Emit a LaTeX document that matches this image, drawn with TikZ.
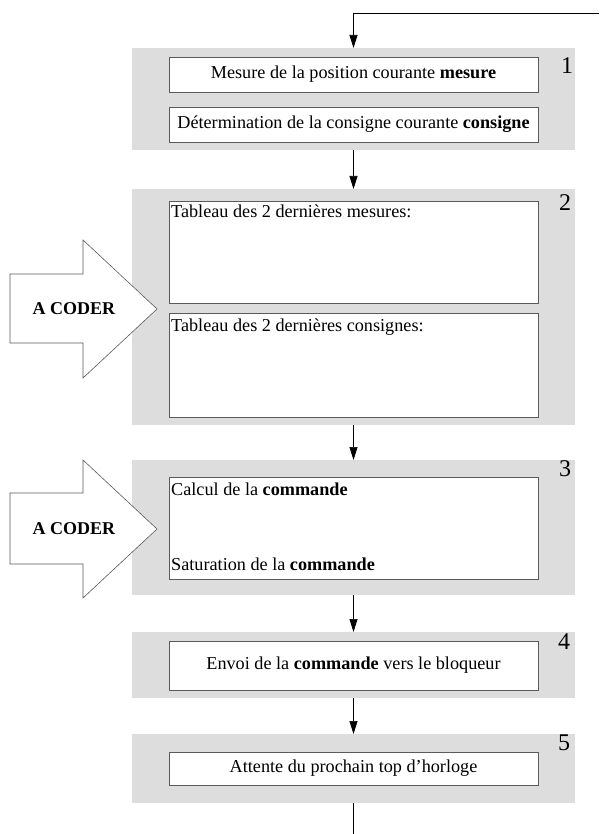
\documentclass[tikz,border=0pt]{standalone}
\usepackage{fontspec}
\setmainfont{Liberation Serif}
\usetikzlibrary{arrows.meta}
\definecolor{panelgray}{RGB}{221,221,221}
\definecolor{edgegray}{RGB}{90,90,90}
\newcommand\mainsize{\fontsize{18.2}{20}\selectfont}
\newcommand\numsize{\fontsize{24}{26}\selectfont}
\newcommand\codersize{\fontsize{18}{20}\selectfont}
\tikzset{
  panel/.style={fill=panelgray, draw=none, inner sep=0pt, outer sep=0pt, anchor=north west},
  stepbox/.style={fill=white, draw=edgegray, line width=0.8pt, inner sep=0pt, outer sep=0pt, anchor=north west, font=\mainsize},
  boxtext/.style={font=\mainsize, inner sep=0pt, anchor=base west},
  num/.style={font=\numsize, inner sep=0pt, anchor=center},
  coder/.style={font=\codersize\bfseries, inner sep=0pt, anchor=center},
  bigarrow/.style={fill=white, draw=edgegray, line width=0.6pt, line join=miter},
  flow/.style={-{Triangle[length=13pt,width=8pt]}, line width=0.7pt, black},
  plainline/.style={line width=0.7pt, black}
}
\begin{document}
\begin{tikzpicture}[x=1pt,y=-1pt]
\useasboundingbox (0,0) rectangle (599,834);
% panels
\node[panel, minimum width=443, minimum height=102] (g1) at (132,48) {};
\node[panel, minimum width=443, minimum height=236] (g2) at (132,189) {};
\node[panel, minimum width=443, minimum height=135] (g3) at (132,460) {};
\node[panel, minimum width=443, minimum height=66] (g4) at (132,632) {};
\node[panel, minimum width=443, minimum height=69] (g5) at (132,734) {};
% step boxes
\node[stepbox, minimum width=369, minimum height=35] (w1a) at (169,57) {Mesure de la position courante \textbf{mesure}};
\node[stepbox, minimum width=369, minimum height=35] (w1b) at (169,107) {Détermination de la consigne courante \textbf{consigne}};
\node[stepbox, minimum width=369, minimum height=102] (w2a) at (169,201) {};
\node[stepbox, minimum width=369, minimum height=104] (w2b) at (169,313) {};
\node[stepbox, minimum width=369, minimum height=102] (w3) at (169,477) {};
\node[stepbox, minimum width=369, minimum height=49] (w4) at (169,641) {Envoi de la \textbf{commande} vers le bloqueur};
\node[stepbox, minimum width=369, minimum height=33] (w5) at (169,752) {Attente du prochain top d’horloge};
% texts in the tall boxes
\node[boxtext] (t2a) at (171,218) {Tableau des 2 dernières mesures:};
\node[boxtext] (t2b) at (171,331) {Tableau des 2 dernières consignes:};
\node[boxtext] (t3a) at (171,495) {Calcul de la \textbf{commande}};
\node[boxtext] (t3b) at (171,570) {Saturation de la \textbf{commande}};
% numbers
\node[num] (n1) at (567,66) {1};
\node[num] (n2) at (565,203) {2};
\node[num] (n3) at (565,469) {3};
\node[num] (n4) at (564,642) {4};
\node[num] (n5) at (564,743) {5};
% big arrows
\draw[bigarrow] (10,274) -- (83,274) -- (83,240) -- (157,309) -- (83,378) -- (83,343) -- (10,343) -- cycle;
\node[coder] (c1) at (74,309) {A CODER};
\draw[bigarrow] (10,493) -- (83,493) -- (83,460) -- (157,529) -- (83,598) -- (83,564) -- (10,564) -- cycle;
\node[coder] (c2) at (74,529) {A CODER};
% connectors
\coordinate (loopin) at (599,13);
\coordinate (bend) at (353.5,13);
\coordinate (loopout) at (353.5,834);
\draw[flow] (loopin) -- (bend) -- (g1.north);
\draw[flow] (g1.south) -- (g2.north);
\draw[flow] (g2.south) -- (g3.north);
\draw[flow] (g3.south) -- (g4.north);
\draw[flow] (g4.south) -- (g5.north);
\draw[plainline] (g5.south) -- (loopout);
\end{tikzpicture}
\end{document}
